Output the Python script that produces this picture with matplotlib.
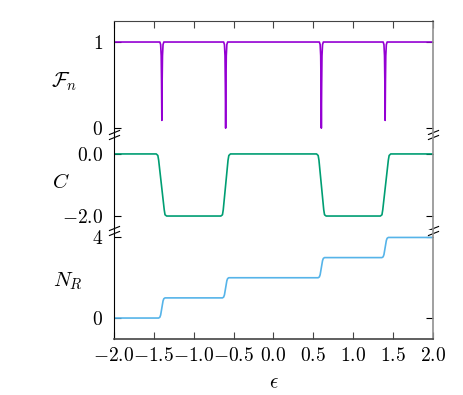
import matplotlib
matplotlib.use('Agg')
import matplotlib.pyplot as plt

plt.rcParams['mathtext.fontset'] = 'cm'
plt.rcParams['font.family'] = 'serif'
plt.rcParams['font.serif'] = ['DejaVu Serif']

# fidelity F_n : narrow dips at +-0.6 and +-1.4
eps_F = [-2.0, -1.425, -1.415, -1.408, -1.404, -1.40, -1.396, -1.392, -1.385, -1.375,
         -0.625, -0.615, -0.608, -0.604, -0.60, -0.596, -0.592, -0.585, -0.575,
         0.575, 0.585, 0.592, 0.596, 0.60, 0.604, 0.608, 0.615, 0.625,
         1.375, 1.385, 1.392, 1.396, 1.40, 1.404, 1.408, 1.415, 1.425, 2.0]
F_n = [1.0, 1.0, 0.97, 0.84, 0.55, 0.09, 0.55, 0.84, 0.97, 1.0,
       1.0, 0.97, 0.84, 0.5, 0.0, 0.5, 0.84, 0.97, 1.0,
       1.0, 0.97, 0.84, 0.5, 0.0, 0.5, 0.84, 0.97, 1.0,
       1.0, 0.97, 0.84, 0.55, 0.09, 0.55, 0.84, 0.97, 1.0, 1.0]

# Chern number C
eps_C = [-2.0, -1.47, -1.45, -1.44, -1.37, -1.36, -1.34,
         -0.66, -0.64, -0.63, -0.57, -0.56, -0.54,
         0.54, 0.56, 0.57, 0.63, 0.64, 0.66,
         1.34, 1.36, 1.37, 1.44, 1.45, 1.47, 2.0]
C_val = [0.0, 0.0, -0.05, -0.2, -1.8, -1.96, -2.0,
         -2.0, -1.96, -1.8, -0.2, -0.05, 0.0,
         0.0, -0.05, -0.2, -1.8, -1.96, -2.0,
         -2.0, -1.96, -1.8, -0.2, -0.05, 0.0, 0.0]

# number of right movers N_R
eps_N = [-2.0, -1.44, -1.425, -1.415, -1.385, -1.375, -1.36,
         -0.64, -0.625, -0.615, -0.585, -0.575, -0.56,
         0.56, 0.575, 0.585, 0.615, 0.625, 0.64,
         1.36, 1.375, 1.385, 1.415, 1.425, 1.44, 2.0]
N_R = [0.0, 0.0, 0.04, 0.15, 0.85, 0.96, 1.0,
       1.0, 1.04, 1.15, 1.85, 1.96, 2.0,
       2.0, 2.04, 2.15, 2.85, 2.96, 3.0,
       3.0, 3.04, 3.15, 3.85, 3.96, 4.0, 4.0]

x_ticks = [-2.0, -1.5, -1.0, -0.5, 0.0, 0.5, 1.0, 1.5, 2.0]
x_labels = ['$-2.0$', '$-1.5$', '$-1.0$', '$-0.5$', '$0.0$', '$0.5$', '$1.0$', '$1.5$', '$2.0$']

fig, axes = plt.subplots(3, 1, figsize=(4.63, 3.95), dpi=100, sharex=True,
                         gridspec_kw=dict(height_ratios=[114, 95, 109], hspace=0))
fig.subplots_adjust(left=0.2462, right=0.9352, top=0.9468, bottom=0.1418)
ax1, ax2, ax3 = axes

ax1.plot(eps_F, F_n, color='#9400D3', lw=1.2)
ax2.plot(eps_C, C_val, color='#009E73', lw=1.2)
ax3.plot(eps_N, N_R, color='#56B4E9', lw=1.2)

ax1.set_ylim(-0.08, 1.244)
ax2.set_ylim(-2.45, 0.61)
ax3.set_ylim(-1.04, 4.37)
ax3.set_xlim(-2.0, 2.0)

ax1.set_yticks([0, 1], labels=['$0$', '$1$'])
ax2.set_yticks([-2.0, 0.0], labels=['$-2.0$', '$0.0$'])
ax3.set_yticks([0, 4], labels=['$0$', '$4$'])
ax3.set_xticks(x_ticks, labels=x_labels)

for ax in axes:
    ax.tick_params(axis='y', direction='in', left=True, right=True, length=5,
                   labelsize=14, width=0.8, pad=8)
    ax.spines['left'].set_color('black')
    ax.spines['left'].set_linewidth(0.8)
    ax.spines['right'].set_color('#909090')
    ax.spines['right'].set_linewidth(1.2)
    ax.spines['top'].set_visible(False)
    ax.spines['bottom'].set_visible(False)

ax1.spines['top'].set_visible(True)
ax1.spines['top'].set_color('#444444')
ax3.spines['bottom'].set_visible(True)
ax3.spines['bottom'].set_color('#444444')
ax3.spines['bottom'].set_linewidth(1.2)

ax1.tick_params(axis='x', direction='in', top=True, bottom=False, labelbottom=False,
                length=5, width=0.8, color='#444444')
ax2.tick_params(axis='x', top=False, bottom=False, labelbottom=False)
ax3.tick_params(axis='x', direction='in', top=False, bottom=True, length=5,
                width=0.8, labelsize=14, pad=6, color='#444444')

# break marks
kw = dict(marker=[(-1, -0.4), (1, 0.4)], markersize=8, linestyle='none',
          color='k', mec='k', mew=0.8, clip_on=False)
ax1.plot([0, 1], [0.022, 0.022], transform=ax1.transAxes, **kw)
ax2.plot([0, 1], [0.974, 0.974], transform=ax2.transAxes, **kw)
ax2.plot([0, 1], [0.026, 0.026], transform=ax2.transAxes, **kw)
ax3.plot([0, 1], [0.977, 0.977], transform=ax3.transAxes, **kw)

ax1.set_ylabel(r'$\mathcal{F}_n$', rotation=0, fontsize=15, ha='center', va='center')
ax1.yaxis.set_label_coords(-0.155, 0.47)
ax2.set_ylabel(r'$C$', rotation=0, fontsize=15, ha='center', va='center')
ax2.yaxis.set_label_coords(-0.165, 0.5)
ax3.set_ylabel(r'$N_R$', rotation=0, fontsize=15, ha='center', va='center')
ax3.yaxis.set_label_coords(-0.145, 0.53)
ax3.set_xlabel(r'$\epsilon$', fontsize=15, labelpad=6)

fig.savefig('out.png', dpi=100)
